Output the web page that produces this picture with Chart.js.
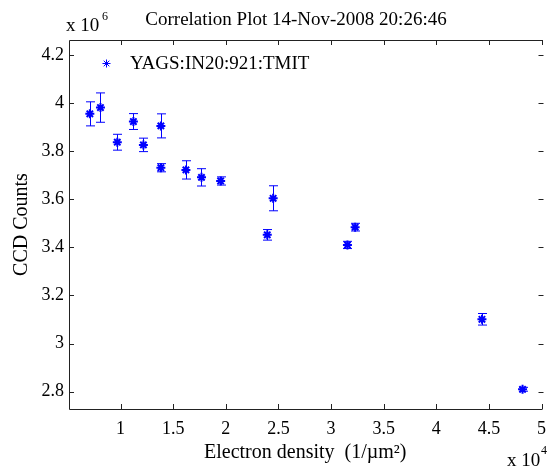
<!DOCTYPE html>
<html>
<head>
<meta charset="utf-8">
<script src="https://cdn.jsdelivr.net/npm/chart.js@4.4.1/dist/chart.umd.min.js"></script>
<style>
  html, body { margin: 0; padding: 0; background: #fff; }
  #wrap { width: 548px; height: 466px; }
</style>
</head>
<body>
<div id="wrap"><canvas id="myChart" width="548" height="466"></canvas></div>
<script>
// electron density (1/um^2) and CCD counts
const xValues = [7080, 8090, 9690, 11220, 12170, 13830, 13830, 16210, 17690, 19510, 24500, 23940, 31560, 32290, 44340, 48200];
const yValues = [3955000, 3981000, 3837000, 3923000, 3826000, 3905000, 3731000, 3722000, 3691000, 3676000, 3604000, 3452000, 3410000, 3484000, 3101000, 2810000];
const yErrors = [50000, 61000, 33000, 33000, 28000, 50000, 17000, 38000, 36000, 17000, 52000, 22000, 15000, 16000, 24000, 8000];

// tick positions (labels are shown scaled by 1e4 / 1e6)
const xTicks = [10000, 15000, 20000, 25000, 30000, 35000, 40000, 45000, 50000];
const yTicks = [2800000, 3000000, 3200000, 3400000, 3600000, 3800000, 4000000, 4200000];

const seriesLabel = 'YAGS:IN20:921:TMIT';
const titleText = 'Correlation Plot 14-Nov-2008 20:26:46';

const FONT = '"Liberation Serif", "Times New Roman", serif';
const BLUE = '#0000ff';

function buildPoints() {
  return xValues.map((x, i) => ({ x: x, y: yValues[i] }));
}

// error bars + framing (inward ticks, title, exponents, legend)
const extrasPlugin = {
  id: 'extras',
  beforeDatasetsDraw(chart) {
    const ctx = chart.ctx;
    const xs = chart.scales.x;
    const ys = chart.scales.y;
    ctx.save();
    ctx.strokeStyle = BLUE;
    ctx.lineWidth = 1;
    xValues.forEach((x, i) => {
      const px = Math.round(xs.getPixelForValue(x)) + 0.5;
      const top = ys.getPixelForValue(yValues[i] + yErrors[i]);
      const bot = ys.getPixelForValue(yValues[i] - yErrors[i]);
      ctx.beginPath();
      ctx.moveTo(px, top); ctx.lineTo(px, bot);
      ctx.moveTo(px - 4.5, top); ctx.lineTo(px + 4.5, top);
      ctx.moveTo(px - 4.5, bot); ctx.lineTo(px + 4.5, bot);
      ctx.stroke();
    });
    ctx.restore();
  },
  afterDraw(chart) {
    const ctx = chart.ctx;
    const a = chart.chartArea;
    const xs = chart.scales.x;
    const ys = chart.scales.y;
    ctx.save();
    ctx.strokeStyle = '#222';
    ctx.lineWidth = 1;
    ctx.beginPath();
    // box (right side falls off the figure)
    ctx.moveTo(a.right + 1, a.top + 0.5); ctx.lineTo(a.left + 0.5, a.top + 0.5);
    ctx.lineTo(a.left + 0.5, a.bottom + 0.5); ctx.lineTo(a.right + 1, a.bottom + 0.5);
    xs.ticks.forEach(t => {
      const px = Math.round(xs.getPixelForValue(t.value)) + 0.5;
      ctx.moveTo(px, a.bottom); ctx.lineTo(px, a.bottom - 5);
      ctx.moveTo(px, a.top); ctx.lineTo(px, a.top + 5);
    });
    ys.ticks.forEach(t => {
      const py = Math.round(ys.getPixelForValue(t.value)) + 0.5;
      ctx.moveTo(a.left, py); ctx.lineTo(a.left + 5, py);
      ctx.moveTo(a.right + 2, py); ctx.lineTo(a.right - 3, py);
    });
    ctx.stroke();

    ctx.fillStyle = '#000';
    ctx.textBaseline = 'alphabetic';
    ctx.font = '19px ' + FONT;
    ctx.textAlign = 'center';
    ctx.fillText(titleText, 296, 25);

    // axis exponents
    ctx.textAlign = 'left';
    ctx.fillText('x 10', 66, 31);
    ctx.fillText('x 10', 507, 466);
    ctx.font = '12px ' + FONT;
    ctx.fillText('6', 102, 20);
    ctx.fillText('4', 541, 454);

    // legend
    ctx.font = '19px ' + FONT;
    ctx.fillText(seriesLabel, 130, 69);
    ctx.strokeStyle = BLUE;
    ctx.beginPath();
    const lx = 106.5, ly = 63.5, r = 4;
    ctx.moveTo(lx - r, ly); ctx.lineTo(lx + r, ly);
    ctx.moveTo(lx, ly - r); ctx.lineTo(lx, ly + r);
    ctx.moveTo(lx - r * 0.7, ly - r * 0.7); ctx.lineTo(lx + r * 0.7, ly + r * 0.7);
    ctx.moveTo(lx - r * 0.7, ly + r * 0.7); ctx.lineTo(lx + r * 0.7, ly - r * 0.7);
    ctx.stroke();
    ctx.restore();
  }
};

function initChart(target) {
  return new Chart(target, {
    type: 'scatter',
    data: {
      datasets: [{
        label: seriesLabel,
        data: buildPoints(),
        pointStyle: 'star',
        pointRadius: 4.5,
        pointBorderWidth: 2,
        borderColor: BLUE,
        backgroundColor: BLUE
      }]
    },
    options: {
      responsive: false,
      animation: false,
      events: [],
      layout: { padding: { top: 40, right: 2, left: 0, bottom: 0 } },
      plugins: {
        legend: { display: false },
        title: { display: false },
        tooltip: { enabled: false }
      },
      scales: {
        x: {
          type: 'linear',
          min: 5100,
          max: 50000,
          border: { display: false },
          grid: { display: false, drawTicks: false },
          afterBuildTicks: s => { s.ticks = xTicks.map(v => ({ value: v })); },
          ticks: {
            autoSkip: false,
            maxRotation: 0,
            padding: 9,
            color: '#000',
            font: { family: FONT, size: 18 },
            callback: v => String(Math.round(v / 1000) / 10)
          },
          title: {
            display: true,
            text: 'Electron density  (1/\u00b5m\u00b2)',
            color: '#000',
            font: { family: FONT, size: 20 },
            padding: { top: 0, bottom: 1 }
          },
          afterFit: s => { s.height = 57; s.paddingLeft = 0; s.paddingRight = 0; }
        },
        y: {
          type: 'linear',
          min: 2728000,
          max: 4262000,
          border: { display: false },
          grid: { display: false, drawTicks: false },
          afterBuildTicks: s => { s.ticks = yTicks.map(v => ({ value: v })); },
          ticks: {
            autoSkip: false,
            padding: 5,
            color: '#000',
            font: { family: FONT, size: 18 },
            callback: v => String(Math.round(v / 100000) / 10)
          },
          title: {
            display: true,
            text: 'CCD Counts',
            color: '#000',
            font: { family: FONT, size: 20 },
            padding: { top: 10, bottom: 0 }
          },
          afterFit: s => { s.width = 69; s.paddingTop = 0; s.paddingBottom = 0; }
        }
      }
    },
    plugins: [extrasPlugin]
  });
}

function mainEvent() {
  const chartTarget = document.querySelector('#myChart');
  const chart = initChart(chartTarget);
  console.log(chart.chartArea);
}

document.addEventListener('DOMContentLoaded', () => mainEvent());
</script>
</body>
</html>
